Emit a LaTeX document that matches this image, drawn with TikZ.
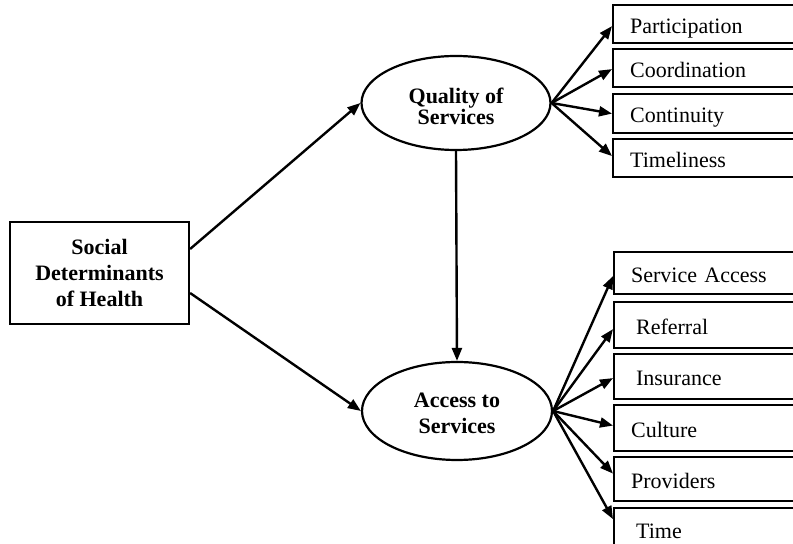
\documentclass[tikz,border=0pt]{standalone}
\usepackage{fontspec}
\setmainfont{Liberation Serif}
\usetikzlibrary{arrows.meta,shapes.geometric,calc}
\begin{document}
\begin{tikzpicture}[x=0.5pt,y=-0.5pt,
  every node/.style={font=\fontsize{11}{11}\selectfont},
  ell/.style={draw,ellipse,line width=1.1pt,inner sep=0pt,align=center},
  mainbox/.style={draw,rectangle,line width=1.1pt,align=center,font=\bfseries\fontsize{11}{13}\selectfont},
  itembox/.style={draw,rectangle,line width=1.1pt,anchor=north west,inner xsep=8.5pt,text width=93pt,align=left,text height=9pt,text depth=0pt},
  conn/.style={-{Triangle[length=6.5pt,width=5pt]},line width=1.2pt}]
\useasboundingbox (0,0) rectangle (793,544);
\clip (0,0) rectangle (793,544);
% main nodes
\node[mainbox,minimum width=89.5pt,minimum height=51pt] (sdh) at (99.5,273) {Social\\Determinants\\of Health};
\node[ell,minimum width=94.5pt,minimum height=47pt,text height=21.5pt,font=\bfseries\fontsize{11}{10.5}\selectfont] (q) at (456,103) {Quality of\\Services};
\node[ell,minimum width=95pt,minimum height=49pt,text height=22.5pt,font=\bfseries\fontsize{11}{13}\selectfont] (a) at (457,411) {Access to\\Services};
% quality items
\node[itembox,minimum height=19pt] (p1) at (612,4) {Participation};
\node[itembox,minimum height=19pt] (p2) at (612,48) {Coordination};
\node[itembox,minimum height=19.5pt] (p3) at (612,93) {Continuity};
\node[itembox,minimum height=19pt] (p4) at (612,138) {Timeliness};
% access items
\node[itembox,minimum height=21pt] (b1) at (613,251) {Service Access};
\node[itembox,minimum height=23pt] (b2) at (613,301) {\hspace*{2.5pt}Referral};
\node[itembox,minimum height=22.5pt] (b3) at (613,353) {\hspace*{2.5pt}Insurance};
\node[itembox,minimum height=23pt] (b4) at (613,404) {Culture};
\node[itembox,minimum height=22pt] (b5) at (613,456) {Providers};
\node[itembox,minimum height=21pt] (b6) at (613,507) {\hspace*{2.5pt}Time};
% connectors
\draw[conn] ([yshift=12pt]sdh.east) -- (q.west);
\draw[conn] ([yshift=-10pt]sdh.east) -- (a.west);
\draw[conn] (q.south) -- (a.north);
\draw[conn] (q.east) -- ([yshift=-1pt]p1.west);
\draw[conn] (q.east) -- ([yshift=-0.5pt]p2.west);
\draw[conn] (q.east) -- (p3.west);
\draw[conn] (q.east) -- ([yshift=1pt]p4.west);
\draw[conn] (a.east) -- ([yshift=-1.5pt]b1.west);
\draw[conn] (a.east) -- ([yshift=-2pt]b2.west);
\draw[conn] (a.east) -- ([yshift=-0.75pt]b3.west);
\draw[conn] (a.east) -- ([yshift=1.25pt]b4.west);
\draw[conn] (a.east) -- ([yshift=2.75pt]b5.west);
\draw[conn] (a.east) -- ([yshift=5pt]b6.west);
\end{tikzpicture}
\end{document}
